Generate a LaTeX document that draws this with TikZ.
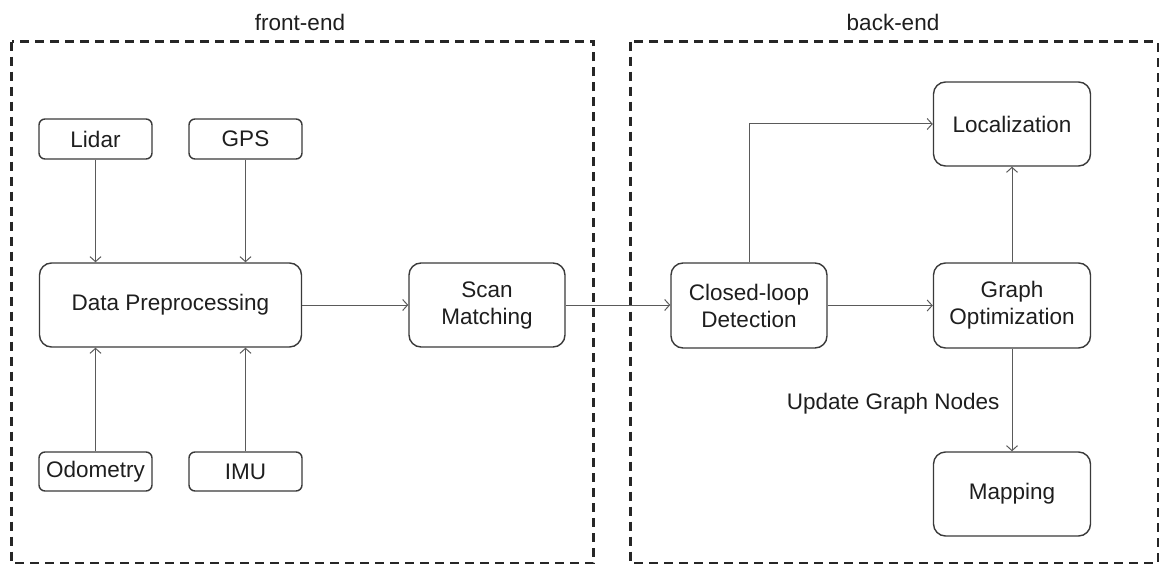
\documentclass[tikz,border=0pt]{standalone}
\usepackage{fontspec}
\setmainfont{Liberation Sans}
\usetikzlibrary{arrows.meta}
\definecolor{boxc}{HTML}{3A3A3A}
\definecolor{arrc}{HTML}{5A5A5A}
\definecolor{txtc}{HTML}{1E1E1E}
\begin{document}
\begin{tikzpicture}[x=1pt,y=-1pt,
  box/.style={draw=boxc, line width=1.4pt, rounded corners=#1, fill=white,
    inner sep=0pt, align=center, text=txtc,
    font=\fontsize{22.5}{27}\selectfont},
  box/.default=6pt,
  flow/.style={draw=arrc, line width=1pt,
    -{Straight Barb[length=5pt,width=11pt,line width=1pt]}},
  region/.style={draw=black!85, line width=2.5pt, dash pattern=on 9pt off 6pt},
  caption/.style={text=txtc, font=\fontsize{22.5}{27}\selectfont, inner sep=0pt}]
\useasboundingbox (0,0) rectangle (1159,564);

% dashed regions
\draw[region] (11.5,41.7) rectangle (593.7,563);
\draw[region] (630.6,41.7) rectangle (1158,563);
\node[caption, anchor=base] (fe) at (300,31) {front-end};
\node[caption, anchor=base] (be) at (893,31) {back-end};

% front-end blocks
\node[box, minimum width=113pt, minimum height=40pt] (lidar) at (95.5,139) {Lidar};
\node[box, minimum width=113pt, minimum height=40pt] (gps) at (245.5,139) {GPS};
\node[box=12pt, minimum width=262pt, minimum height=84pt] (dp) at (170.5,305) {Data Preprocessing};
\node[box=12pt, minimum width=156pt, minimum height=84pt] (scan) at (487,305) {Scan\\Matching};
\node[box, minimum width=113pt, minimum height=39pt] (odo) at (95.5,471.5) {Odometry};
\node[box, minimum width=113pt, minimum height=39pt] (imu) at (245.5,471.5) {IMU};

% back-end blocks
\node[box=12pt, minimum width=156pt, minimum height=85pt] (loop) at (749,305.5) {Closed-loop\\Detection};
\node[box=12pt, minimum width=157pt, minimum height=85pt] (opt) at (1012,305.5) {Graph\\Optimization};
\node[box=12pt, minimum width=157pt, minimum height=84pt] (loc) at (1012,124) {Localization};
\node[box=12pt, minimum width=157pt, minimum height=84pt] (map) at (1012,494) {Mapping};

% connectors
\draw[flow] (lidar.south) -- (lidar.south |- dp.north);
\draw[flow] (gps.south) -- (gps.south |- dp.north);
\draw[flow] (odo.north) -- (odo.north |- dp.south);
\draw[flow] (imu.north) -- (imu.north |- dp.south);
\draw[flow] (dp.east) -- (scan.west);
\draw[flow] (scan.east) -- (scan.east -| loop.west);
\draw[flow] (loop.east) -- (opt.west);
\draw[flow] (loop.north) |- (loc.west);
\draw[flow] (opt.north) -- (loc.south);
\draw[flow] (opt.south) -- (map.north)
  node[caption, pos=0.535, anchor=east, xshift=-12pt] (upd) {Update Graph Nodes};
\end{tikzpicture}
\end{document}
